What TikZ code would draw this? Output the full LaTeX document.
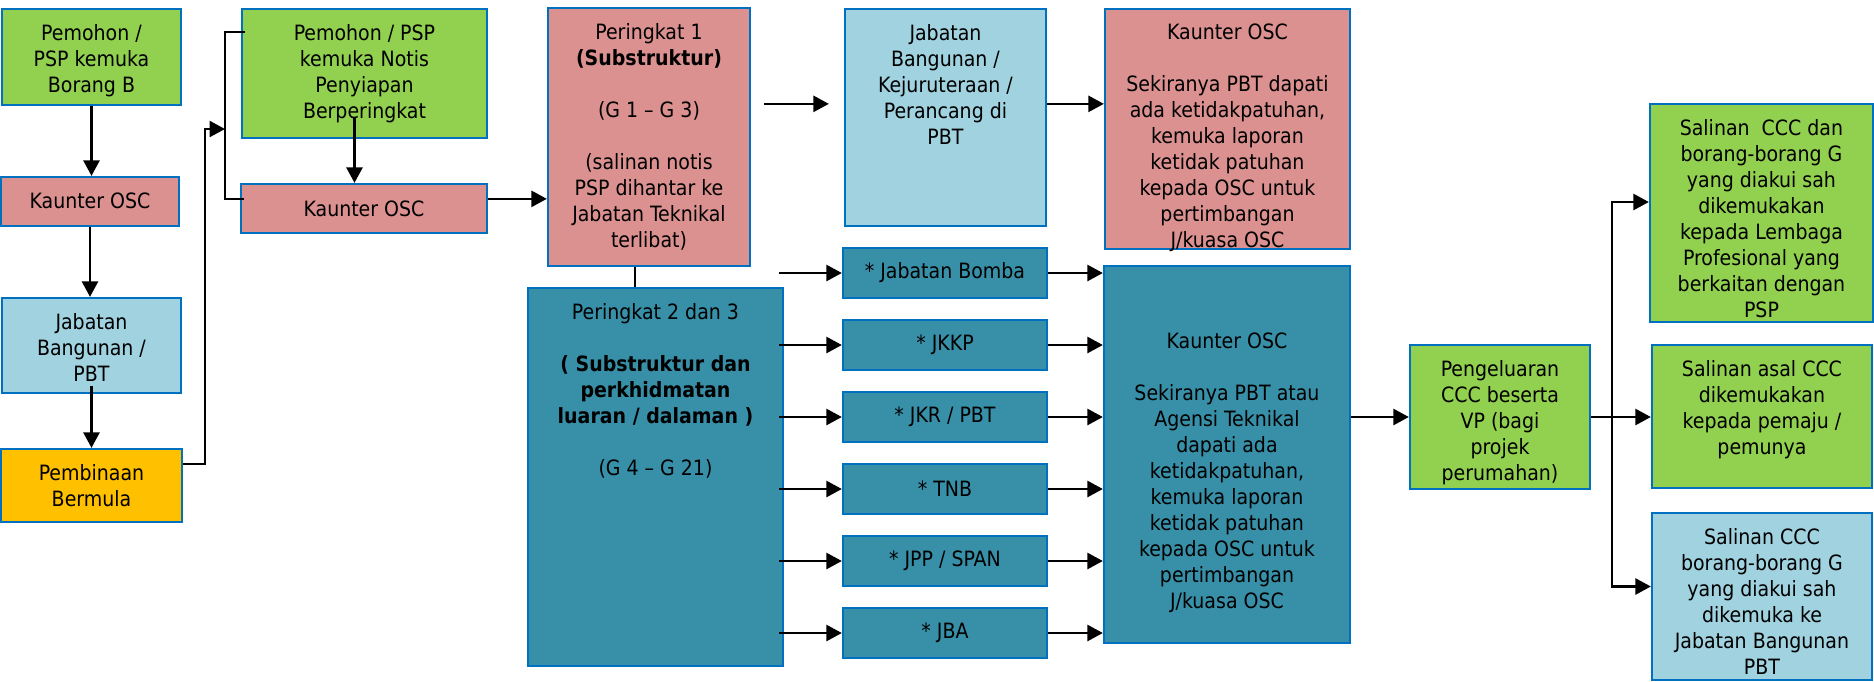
\documentclass[tikz,border=0pt]{standalone}
\usepackage{fontspec}
\setmainfont{DejaVu Sans Condensed}
\usetikzlibrary{positioning, arrows.meta, fit, calc}

\definecolor{boxgreen}{RGB}{146,208,80}
\definecolor{boxpink}{RGB}{220,145,145}
\definecolor{boxsky}{RGB}{160,210,224}
\definecolor{boxteal}{RGB}{56,144,168}
\definecolor{boxamber}{RGB}{255,192,0}
\definecolor{boxedge}{RGB}{0,112,192}

\begin{document}
\begin{tikzpicture}[
      x=0.02cm, y=-0.02cm,
      box/.style={draw=boxedge, line width=1.3pt, inner sep=0pt},
      txt/.style={align=center, inner sep=0pt, anchor=north, font=\fontsize{12}{14.8}\selectfont},
      mid/.style={txt, anchor=center},
      flow/.style={line width=1.5pt, -{Triangle[length=0.31cm, width=0.32cm]}},
      link/.style={line width=1.5pt}
    ]
      \useasboundingbox (0,0) rectangle (1874,681);

      % column 1: Borang B
      \node[box, fill=boxgreen, fit={(2,9) (181,105)}] (b1) {};
      \node[txt] (b1t) at ($(b1.north)+(0,16)$) {Pemohon /\\PSP kemuka\\Borang B};
      \node[box, fill=boxpink, fit={(1,177) (179,226)}] (k1) {};
      \node[mid] (k1t) at ($(k1.center)+(0,-1)$) {Kaunter OSC};
      \node[box, fill=boxsky, fit={(2,298) (181,393)}] (j1) {};
      \node[txt] (j1t) at ($(j1.north)+(0,16)$) {Jabatan\\Bangunan /\\PBT};
      \node[box, fill=boxamber, fit={(1,449) (182,522)}] (pb) {};
      \node[txt] (pbt) at ($(pb.north)+(0,16)$) {Pembinaan\\Bermula};

      % column 2: Notis Penyiapan
      \node[box, fill=boxgreen, fit={(242,9) (487,138)}] (n2) {};
      \node[txt] (n2t) at ($(n2.north)+(0,16)$) {Pemohon / PSP\\kemuka Notis\\Penyiapan\\Berperingkat};
      \node[box, fill=boxpink, fit={(241,184) (487,233)}] (k2) {};
      \node[mid] (k2t) at (k2.center) {Kaunter OSC};

      % Peringkat 1, 2 dan 3
      \node[box, fill=boxpink, fit={(548,8) (750,266)}] (p1) {};
      \node[txt] (p1t) at ($(p1.north)+(0,16)$) {Peringkat 1\\\textbf{(Substruktur)}\\~\\(G 1 -- G 3)\\~\\(salinan notis\\PSP dihantar ke\\Jabatan Teknikal\\terlibat)};
      \node[box, fill=boxteal, fit={(528,288) (783,666)}] (p2) {};
      \node[txt] (p2t) at ($(p2.north)+(0,16)$) {Peringkat 2 dan 3\\~\\\textbf{( Substruktur dan}\\\textbf{perkhidmatan}\\\textbf{luaran / dalaman )}\\~\\(G 4 -- G 21)};

      % top row
      \node[box, fill=boxsky, fit={(845,9) (1046,226)}] (jb) {};
      \node[txt] (jbt) at ($(jb.north)+(0,16)$) {Jabatan\\Bangunan /\\Kejuruteraan /\\Perancang di\\PBT};
      \node[box, fill=boxpink, fit={(1105,9) (1350,249)}] (kt) {};
      \node[txt] (ktt) at ($(kt.north)+(0,16)$) {Kaunter OSC\\~\\Sekiranya PBT dapati\\ada ketidakpatuhan,\\kemuka laporan\\ketidak patuhan\\kepada OSC untuk\\pertimbangan\\J/kuasa OSC};

      % technical agencies
      \foreach \i/\y/\agency in {1/248/{Jabatan Bomba}, 2/320/{JKKP}, 3/392/{JKR / PBT}, 4/464/{TNB}, 5/536/{JPP / SPAN}, 6/608/{JBA}} {
        \node[box, fill=boxteal, fit={(843,\y) (1047,\y+50)}] (sb\i) {};
        \node[mid] (sb\i t) at (sb\i.center) {* \agency};
      }
      \node[box, fill=boxteal, fit={(1104,266) (1350,643)}] (kb) {};
      \node[txt] (kbt) at ($(kb.north)+(0,68)$) {Kaunter OSC\\~\\Sekiranya PBT atau\\Agensi Teknikal\\dapati ada\\ketidakpatuhan,\\kemuka laporan\\ketidak patuhan\\kepada OSC untuk\\pertimbangan\\J/kuasa OSC};

      % CCC
      \node[box, fill=boxgreen, fit={(1410,345) (1590,489)}] (pg) {};
      \node[txt] (pgt) at ($(pg.north)+(0,16)$) {Pengeluaran\\CCC beserta\\VP (bagi\\projek\\perumahan)};
      \node[box, fill=boxgreen, fit={(1650,104) (1873,322)}] (s1) {};
      \node[txt] (s1t) at ($(s1.north)+(0,16)$) {Salinan~~CCC dan\\borang-borang G\\yang diakui sah\\dikemukakan\\kepada Lembaga\\Profesional yang\\berkaitan dengan\\PSP};
      \node[box, fill=boxgreen, fit={(1652,345) (1872,488)}] (s2) {};
      \node[txt] (s2t) at ($(s2.north)+(0,16)$) {Salinan asal CCC\\dikemukakan\\kepada pemaju /\\pemunya};
      \node[box, fill=boxsky, fit={(1652,513) (1872,680)}] (s3) {};
      \node[txt] (s3t) at ($(s3.north)+(0,16)$) {Salinan CCC\\borang-borang G\\yang diakui sah\\dikemuka ke\\Jabatan Bangunan\\PBT};

      % connectors
      \draw[flow] (b1.south) -- (b1.south |- k1.north);
      \draw[flow] (k1.south) -- (k1.south |- j1.north);
      \draw[flow] ($(j1.south)+(0,-8)$) coordinate (ja) -- (ja |- pb.north);
      \coordinate (brk) at (225,129);
      \draw[link] ($(n2.north west)+(4,24)$) -| (brk) |- ($(k2.north west)+(4,16)$);
      \draw[flow] ($(pb.north east)+(0,16)$) -- ++(22,0) |- (brk);
      \draw[flow] ($(n2.south)+(-10,-21)$) coordinate (na) -- (na |- k2.north);
      \draw[flow] ($(k2.north east)+(0,16)$) coordinate (ka) -- (ka -| p1.west);
      \draw[flow, shorten <=0.26cm, shorten >=0.3cm] ($(p1.north east)+(0,97)$) coordinate (pa) -- (pa -| jb.west);
      \draw[flow] ($(jb.north east)+(0,96)$) coordinate (jr) -- (jr -| kt.west);
      \draw[link] ($(p1.south)+(-14,0)$) coordinate (pv) -- (pv |- p2.north);
      \coordinate (fan) at ($(p2.north east)+(-5,0)$);
      \foreach \i in {1,...,6} {
        \draw[flow] (sb\i.west -| fan) -- (sb\i.west);
        \draw[flow] (sb\i.east) -- (sb\i.east -| kb.west);
      }
      \draw[flow] (pg.west -| kb.east) -- (pg.west);
      \draw[flow] (pg.east) -- (pg.east -| s2.west);
      \coordinate (br) at ($(pg.east)+(21,0)$);
      \draw[flow] (br) |- ($(s1.west)+(0,-11)$);
      \draw[flow] (br) |- ($(s3.west)+(0,-10)$);
    \end{tikzpicture}
\end{document}
